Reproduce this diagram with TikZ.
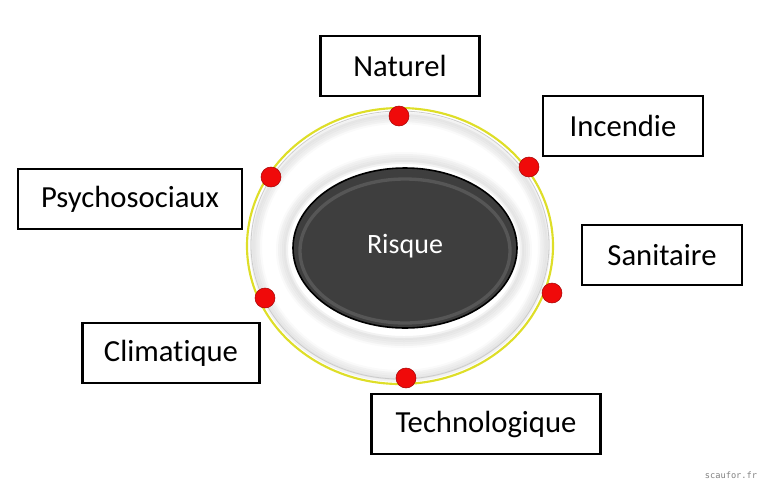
\documentclass[tikz,border=0pt]{standalone}
\usepackage{fontspec}
\setmainfont{Carlito}[Ligatures=NoCommon]
\setmonofont{DejaVu Sans Mono}
\usetikzlibrary{positioning}
\definecolor{RingYellow}{RGB}{222,222,40}
\definecolor{CoreGray}{RGB}{62,62,62}
\definecolor{DotRed}{RGB}{240,10,10}

\begin{document}
\begin{tikzpicture}[x=0.75pt,y=-0.75pt,
  catbox/.style={draw=black, line width=2.2pt, fill=white, inner sep=0pt,
    minimum height=45pt, font=\fontsize{23}{27}\selectfont},
  dot/.style={circle, inner sep=0pt, minimum size=15pt, draw=DotRed!70!black,
    line width=0.4pt, fill=DotRed}]
  \useasboundingbox (0,0) rectangle (768,490);
  % ring
  \fill[white] (400,246) ellipse [x radius=153, y radius=138];
  \foreach \r/\op in {0/0.10, 2/0.10, 4/0.08, 6/0.06, 8/0.04} {
    \draw[gray, line width=3pt, opacity=\op] (400,247) ellipse [x radius=148-\r, y radius=133-\r];
    \draw[gray, line width=3pt, opacity=\op] (404,250) ellipse [x radius=118+\r, y radius=88+\r];
  }
  \draw[gray!40, line width=0.6pt] (400,245) ellipse [x radius=149, y radius=134];
  \draw[RingYellow, line width=1.6pt] (400,246) ellipse [x radius=153, y radius=138];
  % core
  \fill[CoreGray, draw=black, line width=1.2pt] (405,248) ellipse [x radius=112, y radius=80];
  \draw[gray!45!CoreGray, line width=2.5pt, opacity=0.8] (405,251) ellipse [x radius=105, y radius=72];
  \node[text=white, font=\fontsize{21}{25}\selectfont] (risque) at (405,246) {Risque};
  % categories
  \node[catbox, minimum width=119pt] (naturel) at (400,66) {Naturel};
  \node[catbox, minimum width=120pt] (incendie) at (623,126) {Incendie};
  \node[catbox, minimum width=168pt] (psycho) at (130,199) {Psychosociaux};
  \node[catbox, minimum width=120pt] (sanitaire) at (662,255) {Sanitaire};
  \node[catbox, minimum width=133pt] (climatique) at (171,353) {Climatique};
  \node[catbox, minimum width=172pt] (techno) at (486,424) {Technologique};
  % dots
  \node[dot] (dn) at (399,116) {};
  \node[dot] (di) at (529,167) {};
  \node[dot] (dp) at (271,177) {};
  \node[dot] (ds) at (552,293) {};
  \node[dot] (dc) at (265,298) {};
  \node[dot] (dt) at (406,378) {};
  \node[text=gray, font=\ttfamily\fontsize{6.5}{8}\selectfont] (credit) at (731,475) {scaufor.fr};
\end{tikzpicture}
\end{document}
